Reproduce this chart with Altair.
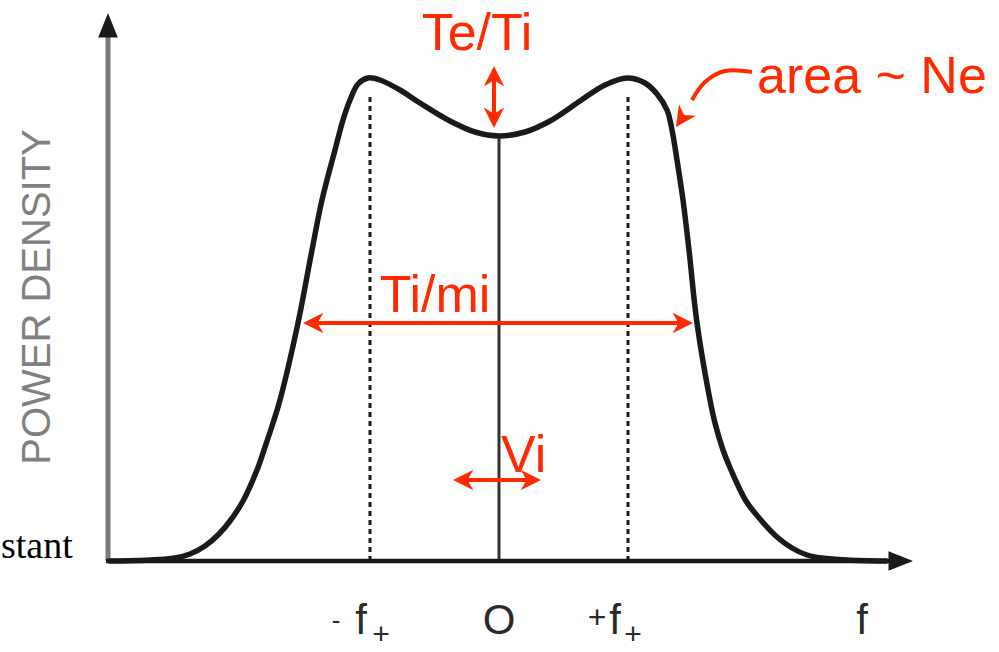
import altair as alt
import pandas as pd

# Ion-acoustic spectrum, schematic units: frequency offset (f+ = 129) and power density
freq = [-389, -349, -324, -309, -294, -281, -269, -256, -242, -235, -226, -219,
        -201, -187, -177, -164, -156, -149, -141, -131, -119, -99, -79, -49, -24,
        0, 26, 51, 81, 106, 128, 146, 158, 168, 173, 178, 184, 190, 198, 211, 216,
        224, 232, 247, 261, 278, 293, 308, 323, 348, 387]
power = [0, 1, 3, 7, 15, 26, 40, 60, 91, 111, 138, 161, 238, 311, 361, 411, 441,
         461, 477, 483, 481, 471, 458, 440, 429, 425, 429, 440, 460, 476, 483,
         478, 467, 451, 431, 401, 361, 311, 238, 161, 138, 111, 91, 60, 42, 24,
         13, 6, 3, 1, 0]

# Marker lines at -f+, 0 and +f+
marker_f = [-129, 0, 129]
marker_top = [464, 425, 464]
marker_style = ["dashed", "solid", "dashed"]

RED = "#ff2a00"
INK = "#1a1a1a"
W, H = 999, 652

xs = alt.Scale(domain=[-499, 500], nice=False, zero=False)
ys = alt.Scale(domain=[-91, 561], nice=False, zero=False)


def X(field="x"):
    return alt.X(f"{field}:Q", scale=xs, axis=None)


def Y(field="y"):
    return alt.Y(f"{field}:Q", scale=ys, axis=None)


NOTCHED = "M0,0 L-2,-1 L-1.4,0 L-2,1 Z"
PLAIN = "M0,0 L-2,-0.8 L-2,0.8 Z"

spectrum = pd.DataFrame({"f": freq, "p": power})
curve = alt.Chart(spectrum).mark_line(
    color=INK, strokeWidth=5.5, interpolate="catmull-rom", strokeCap="round"
).encode(x=X("f"), y=Y("p"))

markers = pd.DataFrame({"x": marker_f, "y": [0, 0, 0], "y2": marker_top,
                        "style": marker_style})
dashed = alt.Chart(markers[markers["style"] == "dashed"]).mark_rule(
    color=INK, strokeWidth=3, strokeDash=[5, 4]
).encode(x=X(), y=Y(), y2="y2:Q")
solid = alt.Chart(markers[markers["style"] == "solid"]).mark_rule(
    color="#333333", strokeWidth=3
).encode(x=X(), y=Y(), y2="y2:Q")

# Axes and straight arrow shafts
shafts = pd.DataFrame([
    {"x": -391, "y": 0, "x2": -391, "y2": 527, "c": "#7a7a7a", "w": 5},
    {"x": -393, "y": 0, "x2": 392, "y2": 0, "c": INK, "w": 4.5},
    {"x": -5, "y": 444, "x2": -5, "y2": 484, "c": RED, "w": 4},
    {"x": -185, "y": 238, "x2": 183, "y2": 238, "c": RED, "w": 4},
    {"x": -36, "y": 81, "x2": 32, "y2": 81, "c": RED, "w": 4},
])
shaft_layer = alt.Chart(shafts).mark_rule().encode(
    x=X(), y=Y(), x2="x2:Q", y2="y2:Q",
    color=alt.Color("c:N", scale=None),
    strokeWidth=alt.StrokeWidth("w:Q", scale=None),
)

# Curved pointer to the spectrum flank
pointer = pd.DataFrame({"x": [253, 226, 206, 193], "y": [489, 490, 479, 461],
                        "o": [0, 1, 2, 3]})
pointer_layer = alt.Chart(pointer).mark_line(
    color=RED, strokeWidth=4, interpolate="cardinal"
).encode(x=X(), y=Y(), order="o:Q")

heads = pd.DataFrame([
    {"x": -5, "y": 495, "a": 270},
    {"x": -5, "y": 433, "a": 90},
    {"x": -196, "y": 238, "a": 180},
    {"x": 194, "y": 238, "a": 0},
    {"x": -46, "y": 81, "a": 180},
    {"x": 42, "y": 81, "a": 0},
    {"x": 177, "y": 434, "a": 124},
])
head_layer = alt.Chart(heads).mark_point(
    shape=NOTCHED, filled=True, size=420, color=RED, opacity=1, strokeWidth=0
).encode(x=X(), y=Y(), angle=alt.Angle("a:Q", scale=None))

axis_heads = pd.DataFrame([
    {"x": -391, "y": 548, "a": 270},
    {"x": 414, "y": 0, "a": 0},
])
axis_head_layer = alt.Chart(axis_heads).mark_point(
    shape=PLAIN, filled=True, size=600, color=INK, opacity=1, strokeWidth=0
).encode(x=X(), y=Y(), angle=alt.Angle("a:Q", scale=None))

# Red annotations
notes = pd.DataFrame([
    {"x": -22, "y": 511, "t": "Te/Ti", "align": "center"},
    {"x": -64, "y": 249, "t": "Ti/mi", "align": "center"},
    {"x": 2, "y": 89, "t": "Vi", "align": "left"},
    {"x": 258, "y": 468, "t": "area ~ Ne", "align": "left"},
])
note_layers = [
    alt.Chart(notes[notes["align"] == a]).mark_text(
        color=RED, fontSize=52, font="Liberation Sans", align=a,
        baseline="alphabetic"
    ).encode(x=X(), y=Y(), text="t:N")
    for a in ["center", "left"]
]

# Frequency tick labels
ticks = pd.DataFrame([
    {"x": -138, "y": -73, "t": "f", "s": 42},
    {"x": 0, "y": -73, "t": "O", "s": 42},
    {"x": 116, "y": -73, "t": "f", "s": 42},
    {"x": 363, "y": -73, "t": "f", "s": 42},
])
tick_layer = alt.Chart(ticks).mark_text(
    color="#2a2a2a", font="Liberation Sans", align="center",
    baseline="alphabetic"
).encode(x=X(), y=Y(), text="t:N", size=alt.Size("s:Q", scale=None))

signs = pd.DataFrame([
    {"x": -163, "y": -60, "t": "-", "s": 26},
    {"x": -118, "y": -74, "t": "+", "s": 30},
    {"x": 98, "y": -57, "t": "+", "s": 32},
    {"x": 134, "y": -74, "t": "+", "s": 30},
])
sign_layer = alt.Chart(signs).mark_text(
    color="#2a2a2a", font="Liberation Sans", align="center",
    baseline="middle"
).encode(x=X(), y=Y(), text="t:N", size=alt.Size("s:Q", scale=None))

ylabel = alt.Chart(pd.DataFrame({"x": [-461], "y": [264], "t": ["POWER DENSITY"]})).mark_text(
    color="#808080", fontSize=40, font="Liberation Sans", angle=270,
    align="center", baseline="middle"
).encode(x=X(), y=Y(), text="t:N")

side_text = alt.Chart(pd.DataFrame({"x": [-498], "y": [3], "t": ["stant"]})).mark_text(
    color="#000000", fontSize=38, font="Liberation Serif", align="left",
    baseline="alphabetic"
).encode(x=X(), y=Y(), text="t:N")

chart = alt.layer(
    dashed, solid, shaft_layer, axis_head_layer, curve, pointer_layer,
    head_layer, *note_layers, tick_layer, sign_layer, ylabel, side_text
).properties(
    width=W, height=H, autosize=alt.AutoSizeParams(type="none"),
    padding=0, background="white"
).configure_view(stroke=None)

chart.save("out.html", embed_options={"renderer": "svg", "actions": False})
